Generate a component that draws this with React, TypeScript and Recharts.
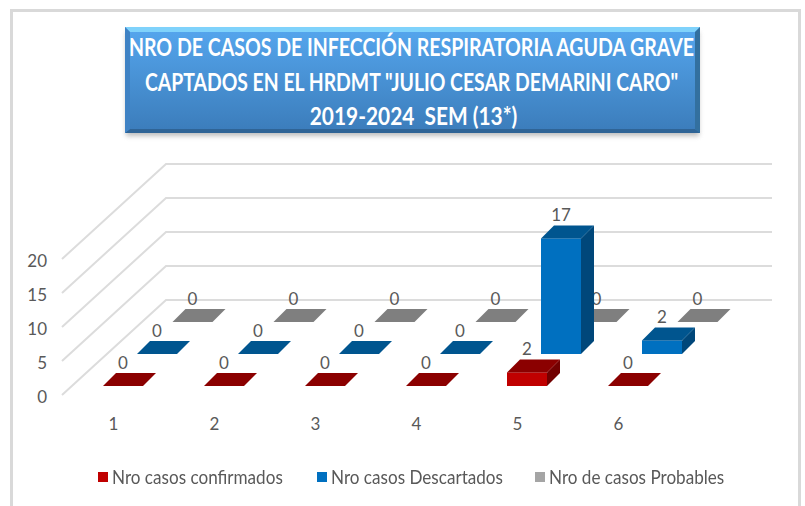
import { BarChart, Bar, XAxis, YAxis, CartesianGrid, Legend } from 'recharts';

const categories = ['1', '2', '3', '4', '5', '6'];
const confirmados = [0, 0, 0, 0, 2, 0];
const descartados = [0, 0, 0, 0, 17, 2];
const probables = [0, 0, 0, 0, 0, 0];
const yTicks = [0, 5, 10, 15, 20];
const titleLines = [
  'NRO DE CASOS DE INFECCIÓN RESPIRATORIA AGUDA GRAVE',
  'CAPTADOS EN EL HRDMT "JULIO CESAR DEMARINI CARO"',
  '2019-2024  SEM (13*)',
];

const data = categories.map((c, i) => ({
  name: c,
  confirmados: confirmados[i],
  descartados: descartados[i],
  probables: probables[i],
}));

const FONT = 'Lato, sans-serif';
const TEXT = '#595959';
const GRID = '#dcdcdc';
const DEPTH_X = 104;
const DEPTH_Y = 95;
const BAR_DEPTH = 13;

// draws one box: floor offset pushes the series back into the 3D floor
function box3d(dataKey: string, front: string, top: string, side: string, dx: number, dy: number) {
  return (props: any) => {
    const { x, y, width, height, payload } = props;
    const fx = x + dx;
    const fy = y + dy;
    const fb = fy + height;
    const d = BAR_DEPTH;
    return (
      <g>
        {height > 0 && <rect x={fx} y={fy} width={width} height={height} fill={front} />}
        {height > 0 && (
          <polygon
            points={`${fx + width},${fy} ${fx + width + d},${fy - d} ${fx + width + d},${fb - d} ${fx + width},${fb}`}
            fill={side}
          />
        )}
        <polygon
          points={`${fx},${fy} ${fx + width},${fy} ${fx + width + d},${fy - d} ${fx + d},${fy - d}`}
          fill={top}
        />
        <text
          x={fx + width / 2}
          y={fy - d - 10.5}
          textAnchor="middle"
          dominantBaseline="central"
          fontFamily={FONT}
          fontSize={17}
          fill={TEXT}
        >
          {payload[dataKey]}
        </text>
      </g>
    );
  };
}

function gridLine(props: any) {
  const { x1, y1, x2, key } = props;
  const bx = x1 + DEPTH_X;
  const by = y1 - DEPTH_Y;
  return (
    <path key={key} d={`M${x1},${y1} L${bx},${by} L${x2 + DEPTH_X},${by}`} fill="none" stroke={GRID} strokeWidth={2} />
  );
}

const order = ['confirmados', 'descartados', 'probables'];

function LegendRow({ payload }: any) {
  const items = [...(payload || [])].sort((a: any, b: any) => order.indexOf(a.dataKey) - order.indexOf(b.dataKey));
  return (
    <div style={{ display: 'flex', fontFamily: FONT, fontSize: 19, color: TEXT, lineHeight: '20px' }}>
      {items.map((it: any) => (
        <div key={it.dataKey} style={{ display: 'flex', alignItems: 'center', width: 218.5, whiteSpace: 'nowrap' }}>
          <span style={{ width: 10, height: 10, background: it.color, marginRight: 4, display: 'inline-block' }} />
          <span style={{ display: 'inline-block', transform: 'scaleX(0.9)', transformOrigin: 'left center' }}>{it.value}</span>
        </div>
      ))}
    </div>
  );
}

function TitleBox() {
  return (
    <svg width={805} height={150} style={{ position: 'absolute', left: 0, top: 0 }}>
      <defs>
        <linearGradient id="titleFill" x1="0" y1="0" x2="0" y2="1">
          <stop offset="0" stopColor="#55a6ee" />
          <stop offset="1" stopColor="#3b7cba" />
        </linearGradient>
        <filter id="titleShadow" x="-5%" y="-10%" width="110%" height="130%">
          <feGaussianBlur stdDeviation="2.5" />
        </filter>
      </defs>
      <rect x={126} y={32} width={573} height={104} fill="#888" opacity={0.55} filter="url(#titleShadow)" />
      <rect x={125} y={27} width={575} height={106} fill="url(#titleFill)" />
      <polygon points="125,27 700,27 695,32 130,32" fill="#7fd2fb" />
      <polygon points="125,133 700,133 695,129 130,129" fill="#2f6496" />
      <polygon points="125,27 130,32 130,129 125,133" fill="#3f82c4" />
      <polygon points="700,27 695,32 695,129 700,133" fill="#33709f" />
      {titleLines.map((line, i) => (
        <text
          key={i}
          transform={`translate(${[411.5, 411.5, 413.5][i]},${[47, 82, 116][i]}) scale(${[0.814, 0.808, 0.87][i]},1)`}
          textAnchor="middle"
          dominantBaseline="central"
          fontFamily={FONT}
          fontWeight="bold"
          fontSize={24}
          fill="#fff"
          style={{ whiteSpace: 'pre' }}
        >
          {line}
        </text>
      ))}
    </svg>
  );
}

export default function App() {
  return (
    <div style={{ position: 'absolute', left: 0, top: 0, width: 805, height: 506, background: '#fff', overflow: 'hidden' }}>
      <div
        style={{
          position: 'absolute',
          left: 10,
          top: 9,
          width: 785,
          height: 497,
          borderTop: '3px solid #d9d9d9',
          borderLeft: '3px solid #d9d9d9',
          borderRight: '3px solid #d9d9d9',
        }}
      />
      <div style={{ position: 'absolute', left: 0, top: 0 }}>
        <BarChart width={805} height={506} data={data} margin={{ top: 259, right: 137, bottom: 81, left: 22 }} barSize={40}>
          <CartesianGrid vertical={false} horizontal={gridLine} />
          <XAxis
            xAxisId="front"
            dataKey="name"
            height={30}
            axisLine={false}
            tickLine={false}
            tickSize={0}
            tickMargin={22}
            dx={1}
            dy={1}
            tick={{ fontFamily: FONT, fontSize: 17, fill: TEXT }}
          />
          <XAxis xAxisId="mid" dataKey="name" hide height={0} />
          <XAxis xAxisId="back" dataKey="name" hide height={0} />
          <YAxis
            width={40}
            domain={[0, 20]}
            ticks={yTicks}
            axisLine={false}
            tickLine={false}
            tickSize={0}
            tickMargin={15}
            dy={2}
            tick={{ fontFamily: FONT, fontSize: 17, fill: TEXT }}
          />
          <Bar
            xAxisId="back"
            dataKey="probables"
            name="Nro de casos Probables"
            fill="#a5a5a5"
            isAnimationActive={false}
            shape={box3d('probables', '#a5a5a5', '#7f7f7f', '#6b6b6b', 79.5, -73)}
          />
          <Bar
            xAxisId="mid"
            dataKey="descartados"
            name="Nro casos Descartados"
            fill="#0070c0"
            isAnimationActive={false}
            shape={box3d('descartados', '#0070c0', '#00558f', '#00477a', 44, -41)}
          />
          <Bar
            xAxisId="front"
            dataKey="confirmados"
            name="Nro casos confirmados"
            fill="#c00000"
            isAnimationActive={false}
            shape={box3d('confirmados', '#c00000', '#8b0000', '#720000', 10, -9)}
          />
          <Legend
            content={LegendRow}
            verticalAlign="middle"
            wrapperStyle={{ position: 'absolute', left: 98, top: 467, width: 680, height: 20 }}
          />
        </BarChart>
      </div>
      <TitleBox />
    </div>
  );
}
